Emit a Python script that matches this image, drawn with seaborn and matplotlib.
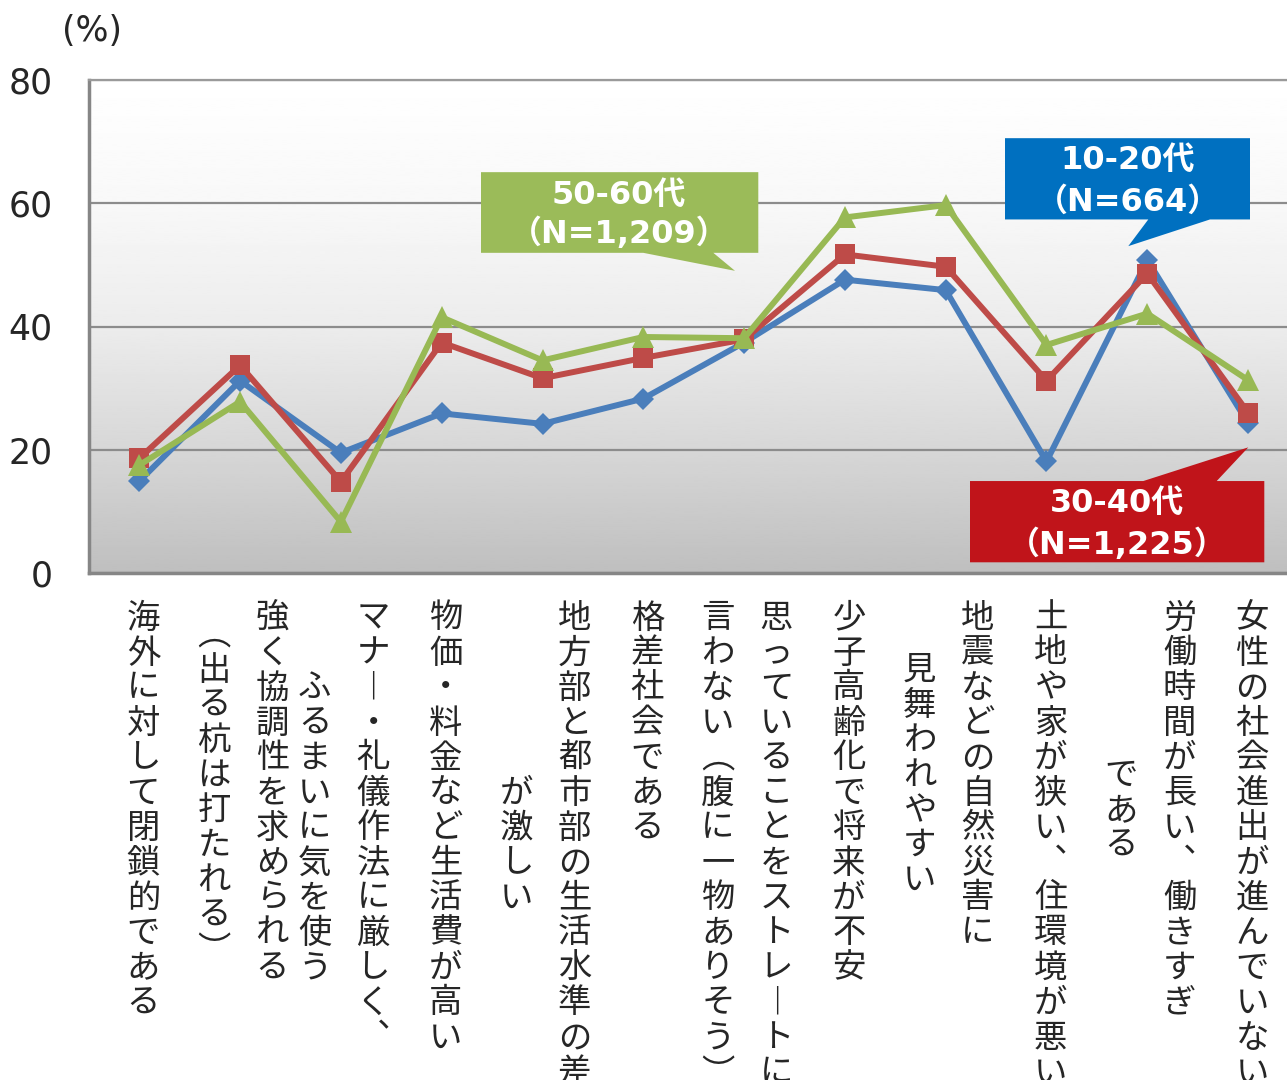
import numpy as np
import pandas as pd
import matplotlib
matplotlib.use("Agg")
import matplotlib.pyplot as plt
import matplotlib.transforms as mtransforms
from matplotlib.patches import Polygon
import seaborn as sns

# categories (columns of vertical text split by \n)
categories = [
    "海外に対して閉鎖的である",
    "強く協調性を求められる\n（出る杭は打たれる）",
    "マナー・礼儀作法に厳しく、\nふるまいに気を使う",
    "物価・料金など生活費が高い",
    "地方部と都市部の生活水準の差\nが激しい",
    "格差社会である",
    "思っていることをストレートに\n言わない（腹に一物ありそう）",
    "少子高齢化で将来が不安",
    "地震などの自然災害に\n見舞われやすい",
    "土地や家が狭い、住環境が悪い",
    "労働時間が長い、働きすぎ\nである",
    "女性の社会進出が進んでいない",
]
series = ["10-20代", "30-40代", "50-60代"]
n_labels = ["（N=664）", "（N=1,225）", "（N=1,209）"]
v_10_20 = [14.9, 31.2, 19.5, 25.9, 24.2, 28.3, 37.4, 47.6, 45.9, 18.1, 50.8, 24.3]
v_30_40 = [18.6, 33.7, 14.8, 37.4, 31.6, 34.9, 37.9, 51.7, 49.7, 31.2, 48.6, 26.0]
v_50_60 = [17.5, 27.8, 8.3, 41.5, 34.5, 38.3, 38.1, 57.7, 59.7, 37.0, 42.1, 31.3]
yticks = [0, 20, 40, 60, 80]

line_colors = {"10-20代": "#4A7EBB", "30-40代": "#BE4B48", "50-60代": "#98B954"}
box_colors = {"10-20代": "#0070C0", "30-40代": "#C0141A", "50-60代": "#9BBB59"}
markers = {"10-20代": "D", "30-40代": "s", "50-60代": "^"}

df = pd.DataFrame({
    "x": list(range(len(categories))) * 3,
    "value": v_10_20 + v_30_40 + v_50_60,
    "group": [s for s in series for _ in categories],
})

sns.set_style("white")
plt.rcParams["font.family"] = ["DejaVu Sans", "Noto Sans CJK JP"]

W, H = 1287, 1080
fig = plt.figure(figsize=(W / 100, H / 100), dpi=100)
# plot area runs slightly past the right edge, like the source
ax = fig.add_axes([88.9 / W, 1 - 573 / H, 1209.6 / W, 493 / H])

# gradient background (white -> gray)
t = np.linspace(0, 1, 256)
shade = np.interp(t, [0, 0.25, 0.5, 0.75, 1.0], [255, 248, 236, 215, 191]) / 255
ax.imshow(shade[:, None], extent=[0, 1, 0, 1], transform=ax.transAxes,
          cmap="gray", vmin=0, vmax=1, aspect="auto", zorder=0, interpolation="bilinear")

sns.lineplot(data=df, x="x", y="value", hue="group", style="group",
             palette=line_colors, markers=markers, dashes=False,
             linewidth=4.3, markeredgewidth=0, legend=False, ax=ax, zorder=3)
ms = {"10-20代": 11, "30-40代": 15, "50-60代": 16}
for line, s in zip(ax.lines, series):
    line.set_markersize(ms[s])

ax.set_xlim(-0.5, len(categories) - 0.5)
ax.set_ylim(0, 80)
ax.set_yticks(yticks)
ax.set_xticks([])
ax.set_xlabel("")
ax.set_ylabel("")
ax.yaxis.grid(True, color="#8C8C8C", linewidth=1.6)
ax.set_axisbelow(True)
ax.tick_params(axis="y", length=0, pad=26, labelsize=25)
for side in ["left", "bottom"]:
    ax.spines[side].set_color("#868686")
    ax.spines[side].set_linewidth(2.5)
ax.spines["top"].set_color("#9A9A9A")
ax.spines["top"].set_linewidth(1.6)
ax.spines["right"].set_visible(False)

fig.text(92 / W, 1 - 31 / H, "(%)", fontsize=25, ha="center", va="center")

# vertical category labels, one character per cell
vert = {"、": "︑", "ー": "︱", "（": "︵", "）": "︶"}
trans = mtransforms.blended_transform_factory(ax.transData, fig.transFigure)
pitch = 35 / H
top = 1 - 618 / H
for i, label in enumerate(categories):
    cols = label.split("\n")
    longest = max(len(c) for c in cols)
    offs = [0.04] if len(cols) == 1 else [0.32, -0.26]
    for col, dx in zip(cols, offs):
        start = top - (longest - len(col)) / 2 * pitch
        for k, ch in enumerate(col):
            ax.text(i + dx, start - k * pitch, vert.get(ch, ch), transform=trans,
                    fontsize=24, ha="center", va="center",
                    family=["Noto Sans CJK JP"], clip_on=False)


# callout boxes: pixel geometry converted to data units
def px(x, y):
    return ((x - 139.3) / 100.8, (573 - y) / 6.165)


callouts = {
    "10-20代": dict(box=(1005, 138, 1250, 219.3), base=(1148.3, 1210), tip=(1128.3, 246),
                   side="bottom", text=(1128, 160, 201.7)),
    "30-40代": dict(box=(970, 481, 1264.3, 562.3), base=(1143.3, 1216.7), tip=(1248.3, 447.3),
                   side="top", text=(1117.5, 503.3, 545)),
    "50-60代": dict(box=(481, 172, 758.3, 252.7), base=(643.3, 713.3), tip=(735, 270.7),
                   side="bottom", text=(619, 195, 233.3)),
}
for s, nl in zip(series, n_labels):
    c = callouts[s]
    x0, y0, x1, y1 = c["box"]
    b0, b1 = c["base"]
    if c["side"] == "bottom":
        pts = [(x0, y0), (x1, y0), (x1, y1), (b1, y1), c["tip"], (b0, y1), (x0, y1)]
    else:
        pts = [(x0, y0), (b0, y0), c["tip"], (b1, y0), (x1, y0), (x1, y1), (x0, y1)]
    ax.add_patch(Polygon([px(*p) for p in pts], closed=True, facecolor=box_colors[s],
                         edgecolor="none", zorder=5, clip_on=False))
    tx, ty1, ty2 = c["text"]
    ax.text(*px(tx, ty1), s, color="white", fontsize=23, fontweight="bold",
            ha="center", va="center", zorder=6, clip_on=False)
    ax.text(*px(tx, ty2), nl, color="white", fontsize=23, fontweight="bold",
            ha="center", va="center", zorder=6, clip_on=False)

fig.savefig("out.png", dpi=100)
